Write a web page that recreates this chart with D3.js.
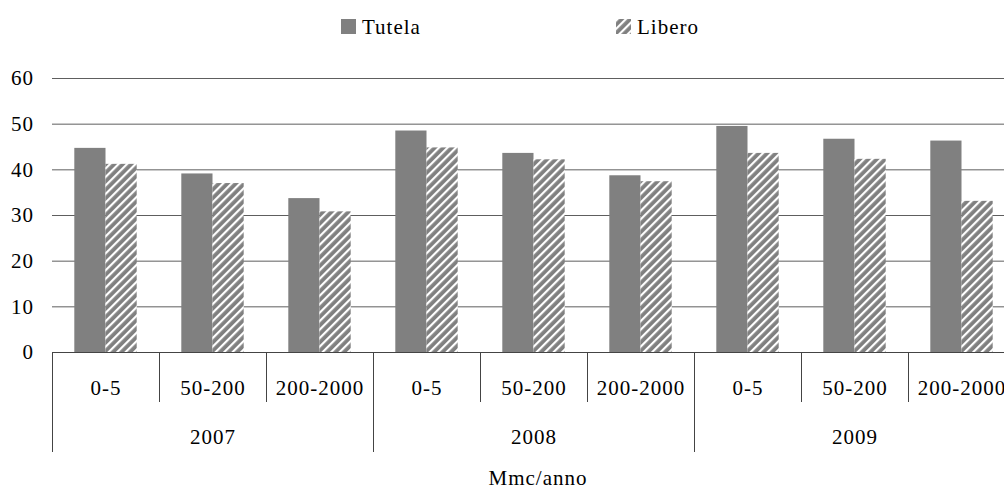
<!DOCTYPE html>
<html>
<head>
<meta charset="utf-8">
<script src="https://cdn.jsdelivr.net/npm/d3@7"></script>
<style>
  body { margin: 0; background: #fff; }
  text { font-family: "Liberation Serif", "Times New Roman", serif; fill: #000; font-size: 21px; letter-spacing: 1px; }
</style>
</head>
<body>
<svg id="chart" width="1004" height="490"></svg>
<script>
var years = ["2007", "2008", "2009"];
var classes = ["0-5", "50-200", "200-2000"];
var seriesNames = ["Tutela", "Libero"];
var tutela = [44.7, 39.1, 33.7, 48.5, 43.6, 38.7, 49.5, 46.7, 46.3];
var libero = [41.2, 37.0, 30.8, 44.8, 42.2, 37.4, 43.6, 42.3, 33.1];
var yTicks = [0, 10, 20, 30, 40, 50, 60];

var svg = d3.select("#chart");
var plotLeft = 52, plotRight = 1015, plotTop = 78, plotBottom = 352;
var barColor = "#808080";

// hatch pattern for Libero
var defs = svg.append("defs");
var pat = defs.append("pattern")
  .attr("id", "hatch")
  .attr("patternUnits", "userSpaceOnUse")
  .attr("width", 6)
  .attr("height", 6)
  .attr("patternTransform", "rotate(45)");
pat.append("rect").attr("width", 6).attr("height", 6).attr("fill", barColor);
pat.append("rect").attr("x", 0).attr("width", 2.2).attr("height", 6).attr("fill", "#fff");

var cats = [];
years.forEach(function(yr) {
  classes.forEach(function(c) { cats.push(yr + "|" + c); });
});

var x = d3.scaleBand().domain(cats).range([plotLeft, plotRight]).paddingInner(0).paddingOuter(0);
var x1 = d3.scaleBand().domain(seriesNames).range([0, x.bandwidth()]).paddingInner(0).paddingOuter(0.715);
var y = d3.scaleLinear().domain([0, 60]).range([plotBottom, plotTop]);

// gridlines
svg.append("g")
  .selectAll("line")
  .data(yTicks.filter(function(d) { return d > 0; }))
  .enter()
  .append("line")
  .attr("x1", plotLeft)
  .attr("x2", 1004)
  .attr("y1", function(d) { return y(d) + 0.5; })
  .attr("y2", function(d) { return y(d) + 0.5; })
  .attr("stroke", "#5e5e5e")
  .attr("stroke-width", 1);

// y tick labels
svg.append("g")
  .selectAll("text")
  .data(yTicks)
  .enter()
  .append("text")
  .attr("x", 34)
  .attr("y", function(d) { return y(d); })
  .attr("dy", "0.35em")
  .attr("text-anchor", "end")
  .text(function(d) { return d; });

// bars
var data = cats.map(function(c, i) {
  return { cat: c, vals: [tutela[i], libero[i]] };
});
var groups = svg.append("g")
  .selectAll("g")
  .data(data)
  .enter()
  .append("g")
  .attr("transform", function(d) { return "translate(" + x(d.cat) + ",0)"; });
groups.selectAll("rect")
  .data(function(d) { return d.vals.map(function(v, j) { return { s: seriesNames[j], v: v }; }); })
  .enter()
  .append("rect")
  .attr("x", function(d) { return x1(d.s); })
  .attr("width", x1.bandwidth())
  .attr("y", function(d) { return y(d.v); })
  .attr("height", function(d) { return plotBottom - y(d.v); })
  .attr("fill", function(d) { return d.s == "Tutela" ? barColor : "url(#hatch)"; });

// category axis
var axis = svg.append("g").attr("stroke-width", 1);
axis.append("line")
  .attr("x1", plotLeft).attr("x2", 1004)
  .attr("y1", plotBottom + 0.5).attr("y2", plotBottom + 0.5)
  .attr("stroke", "#444");
cats.forEach(function(c, i) {
  var xx = Math.round(x(c)) + 0.5;
  var isGroup = i % classes.length == 0;
  axis.append("line")
    .attr("x1", xx).attr("x2", xx)
    .attr("y1", plotBottom)
    .attr("y2", isGroup ? 452 : 402)
    .attr("stroke", "#444");
});

svg.append("g")
  .selectAll("text")
  .data(cats)
  .enter()
  .append("text")
  .attr("x", function(d) { return x(d) + x.bandwidth() / 2 + 0.5; })
  .attr("y", 388)
  .attr("dy", "0.35em")
  .attr("text-anchor", "middle")
  .text(function(d) { return d.split("|")[1]; });

svg.append("g")
  .selectAll("text")
  .data(years)
  .enter()
  .append("text")
  .attr("x", function(d) {
    return x(d + "|" + classes[0]) + x.bandwidth() * classes.length / 2 + 0.5;
  })
  .attr("y", 437)
  .attr("dy", "0.35em")
  .attr("text-anchor", "middle")
  .text(function(d) { return d; });

svg.append("text")
  .attr("x", 538)
  .attr("y", 478)
  .attr("dy", "0.35em")
  .attr("text-anchor", "middle")
  .text("Mmc/anno");

// legend
var legendX = [341, 616];
var legend = svg.append("g")
  .selectAll("g")
  .data(seriesNames)
  .enter()
  .append("g")
  .attr("transform", function(d, i) { return "translate(" + legendX[i] + ",19)"; });
legend.append("rect")
  .attr("width", 15)
  .attr("height", 15)
  .attr("fill", function(d) { return d == "Tutela" ? barColor : "url(#hatch)"; });
legend.append("text")
  .attr("x", 21)
  .attr("y", 8)
  .attr("dy", "0.35em")
  .text(function(d) { return d; });
</script>
</body>
</html>
